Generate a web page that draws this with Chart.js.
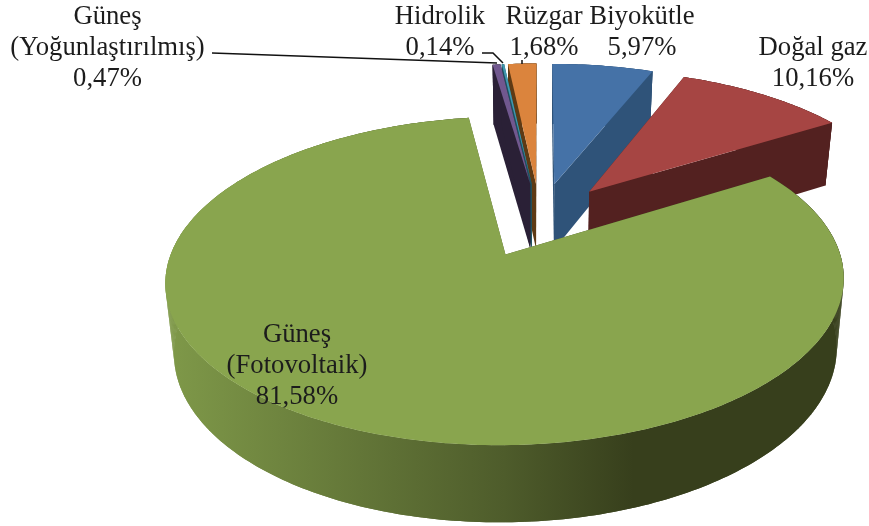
<!DOCTYPE html>
<html lang="tr">
<head>
<meta charset="utf-8">
<title>Kurulu güç dağılımı</title>
<script src="https://cdn.jsdelivr.net/npm/chart.js@4/dist/chart.umd.js"></script>
<style>
    html, body { margin: 0; padding: 0; background: #fff; }
    canvas { display: block; }
</style>
</head>
<body>
<canvas id="pieChart" width="869" height="526"></canvas>
<script>
// Chart data
const categories = ['Biyokütle', 'Doğal gaz', 'Güneş (Fotovoltaik)', 'Güneş (Yoğunlaştırılmış)', 'Hidrolik', 'Rüzgar'];
const shares = [5.97, 10.16, 81.58, 0.47, 0.14, 1.68];
const topColors = ['#4572a7', '#a64543', '#89a54e', '#71588f', '#4198af', '#db843d'];
const wallColors = ['#2f5379', '#532120', null, '#2a2036', '#1c5260', '#5e3a14'];

// Paint order: far slices first, the big one last
const drawOrder = [0, 1, 5, 4, 3, 2];

// Camera used to lay the flat pie down
const view = { cx: 540, cy: 219.5, ax: 323, ay: 149, persp: 0.155, explodeX: 0.245, explodeY: 0.25, shrink: 0.977 };

function project(u, v) {
    const w = 1 / (1 - view.persp * v);
    return { x: view.cx + view.ax * u * w, y: view.cy + view.ay * v * w };
}

function dropToBase(p) {
    return {
        x: view.cx + (p.x - view.cx) * view.shrink,
        y: p.y + 60 + 0.045 * (p.y - 64)
    };
}

function tracePath(ctx, points) {
    ctx.beginPath();
    points.forEach((p, i) => {
        if (i === 0) ctx.moveTo(p.x, p.y);
        else ctx.lineTo(p.x, p.y);
    });
    ctx.closePath();
}

// Arc element that draws itself as a thick slice
class Arc3d extends Chart.ArcElement {
    static id = 'arc3d';

    draw(ctx) {
        const start = this.startAngle;
        const end = this.endAngle;
        const mid = (start + end) / 2;
        const cu = Math.cos(mid) * view.explodeX;
        const cv = Math.sin(mid) * view.explodeY;
        const steps = Math.max(4, Math.ceil((end - start) * 60));

        const tip = project(cu, cv);
        const rim = [];
        for (let i = 0; i <= steps; i++) {
            const a = start + (end - start) * i / steps;
            rim.push(project(cu + Math.cos(a), cv + Math.sin(a)));
        }
        const baseTip = dropToBase(tip);
        const baseRim = rim.map(dropToBase);

        ctx.save();
        ctx.fillStyle = this.options.borderColor;

        // Strips fill the sides of the sweep, the band on top hides their seams
        for (let i = 0; i < steps; i++) {
            tracePath(ctx, [rim[i], rim[i + 1], baseRim[i + 1], baseRim[i]]);
            ctx.fill();
        }
        tracePath(ctx, rim.concat(baseRim.slice().reverse()));
        ctx.fill();
        tracePath(ctx, [tip, rim[0], baseRim[0], baseTip]);
        ctx.fill();
        tracePath(ctx, [tip, rim[steps], baseRim[steps], baseTip]);
        ctx.fill();

        ctx.fillStyle = this.options.backgroundColor;
        tracePath(ctx, [tip].concat(rim));
        ctx.fill();
        ctx.restore();
    }
}

class Pie3dController extends Chart.PieController {
    static id = 'pie3d';
    static defaults = { dataElementType: 'arc3d' };

    draw() {
        const elements = this.getMeta().data;
        drawOrder.forEach(i => elements[i].draw(this.chart.ctx));
    }
}

Chart.register(Arc3d, Pie3dController);

// Slice labels, one entry per category
const labelSpots = [
    { x: 642, y: 24 },
    { x: 813, y: 55 },
    { x: 297, y: 342 },
    { x: 107.5, y: 24 },
    { x: 440, y: 24 },
    { x: 544, y: 24 }
];

const leaderLines = [
    [[212, 53], [497, 63]],
    [[482, 53], [493, 53], [503, 63]],
    [[522, 60], [522, 64]]
];

const sliceLabels = {
    id: 'sliceLabels',
    afterDatasetsDraw(chart) {
        const ctx = chart.ctx;
        ctx.save();
        ctx.strokeStyle = '#111';
        ctx.lineWidth = 1.5;
        leaderLines.forEach(line => {
            ctx.beginPath();
            line.forEach((p, i) => {
                if (i === 0) ctx.moveTo(p[0], p[1]);
                else ctx.lineTo(p[0], p[1]);
            });
            ctx.stroke();
        });

        ctx.fillStyle = '#1c1c1c';
        ctx.font = '26.7px "Liberation Serif"';
        ctx.textAlign = 'center';
        ctx.textBaseline = 'alphabetic';
        categories.forEach((name, i) => {
            const lines = name.split(' (').map((t, n) => n > 0 ? '(' + t : t);
            lines.push(shares[i].toFixed(2).replace('.', ',') + '%');
            lines.forEach((text, n) => {
                ctx.fillText(text, labelSpots[i].x, labelSpots[i].y + n * 31);
            });
        });
        ctx.restore();
    }
};

function initChart() {
    const ctx = document.getElementById('pieChart').getContext('2d');

    // Outer wall of the big slice fades to dark
    const wallFade = ctx.createLinearGradient(166, 0, 843, 0);
    wallFade.addColorStop(0, '#7f9949');
    wallFade.addColorStop(0.5, '#4e5c2b');
    wallFade.addColorStop(0.69, '#373f1c');
    wallFade.addColorStop(1, '#373f1c');

    new Chart(ctx, {
        type: 'pie3d',
        data: {
            labels: categories,
            datasets: [{
                data: shares,
                backgroundColor: topColors,
                borderColor: wallColors.map(c => c || wallFade),
                borderWidth: 0
            }]
        },
        options: {
            responsive: false,
            animation: false,
            plugins: {
                legend: { display: false },
                tooltip: { enabled: false }
            }
        },
        plugins: [sliceLabels]
    });
}

initChart();
</script>
</body>
</html>
